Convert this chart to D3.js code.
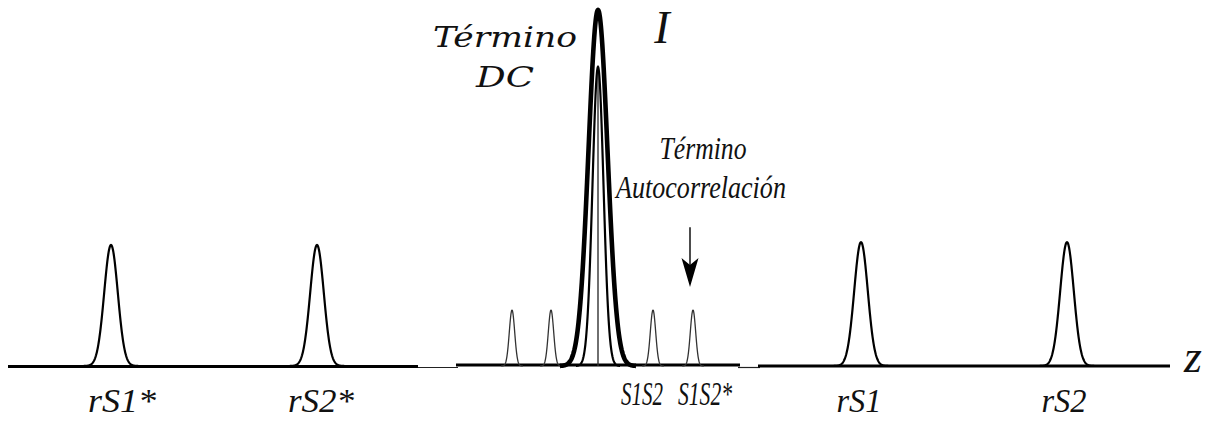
<!DOCTYPE html>
<html>
<head>
<meta charset="utf-8">
<script src="https://cdn.jsdelivr.net/npm/d3@7"></script>
<style>
  html, body { margin: 0; padding: 0; background: #fff; }
  svg { display: block; }
</style>
</head>
<body>
<svg id="chart" width="1206" height="421"></svg>
<script>
// Cross-correlation peaks (reference/sample terms) along z
const crossZ = [-487, -281, 263, 469];
const crossHeight = [0.34, 0.34, 0.348, 0.348];
const crossSigma = [6.8, 6.8, 6.8, 6.8];

// Autocorrelation (sample/sample) peaks near the origin
const autoZ = [-86, -47, 55, 95];
const autoHeight = [0.157, 0.157, 0.157, 0.157];
const autoSigma = [2.7, 2.7, 2.7, 2.7];

// DC term: outer and inner profiles
const dcZ = [0, 0];
const dcHeight = [1.0, 0.84];
const dcSigma = [9.5, 5.5];

// Axis labels under the peaks
const tickLabels = ["rS1*", "rS2*", "S1S2", "S1S2*", "rS1", "rS2"];
const tickZ = [-487, -281, 55, 95, 263, 469];

// Baseline segments (z ranges)
const baseSegments = [[-590, -180], [-142, 142], [160, 572]];
const thinSegments = [[-182, -140], [140, 162]];

const x = d3.scaleLinear().domain([-600, 600]).range([-2, 1198]);
const y = d3.scaleLinear().domain([0, 1]).range([366, 10]);

const svg = d3.select("#chart");
const line = d3.line().x(d => x(d[0])).y(d => y(d[1]));

// sampled Gaussian profile of one peak
function peakPoints(c, h, s) {
  const pts = [];
  const n = 160;
  for (let i = 0; i <= n; i++) {
    const z = c - 4 * s + (8 * s) * i / n;
    pts.push([z, h * Math.exp(-((z - c) * (z - c)) / (2 * s * s))]);
  }
  return pts;
}

// thin connector pieces of the baseline
svg.append("g").selectAll("line").data(thinSegments).join("line")
  .attr("x1", d => x(d[0])).attr("x2", d => x(d[1]))
  .attr("y1", y(0) + 1.5).attr("y2", y(0) + 1.5)
  .attr("stroke", "#222").attr("stroke-width", 1.2);

// thick baseline segments
const segDy = [0.5, -1, 0];
svg.append("g").selectAll("line").data(baseSegments).join("line")
  .attr("x1", d => x(d[0])).attr("x2", d => x(d[1]))
  .attr("y1", (d, i) => y(0) + segDy[i])
  .attr("y2", (d, i) => y(0) + segDy[i])
  .attr("stroke", "#000").attr("stroke-width", 3.2);

// cross-correlation peaks
svg.append("g").selectAll("path").data(crossZ).join("path")
  .attr("d", (c, i) => line(peakPoints(c, crossHeight[i], crossSigma[i])))
  .attr("fill", "none").attr("stroke", "#000").attr("stroke-width", 2.2);

// autocorrelation peaks
svg.append("g").selectAll("path").data(autoZ).join("path")
  .attr("d", (c, i) => line(peakPoints(c, autoHeight[i], autoSigma[i])))
  .attr("fill", "none").attr("stroke", "#333").attr("stroke-width", 1.3);

// DC term: inner profile, outer profile and center line
svg.append("line")
  .attr("x1", x(dcZ[1])).attr("x2", x(dcZ[1]))
  .attr("y1", y(dcHeight[1])).attr("y2", y(0))
  .attr("stroke", "#333").attr("stroke-width", 1.4);
svg.append("path")
  .attr("d", line(peakPoints(dcZ[1], dcHeight[1], dcSigma[1])))
  .attr("fill", "none").attr("stroke", "#000").attr("stroke-width", 2.2);
svg.append("path")
  .attr("d", line(peakPoints(dcZ[0], dcHeight[0], dcSigma[0])))
  .attr("fill", "none").attr("stroke", "#000").attr("stroke-width", 4.6)
  .attr("stroke-linejoin", "round");

// arrow pointing at the autocorrelation term
const arrowZ = 92, arrowFrom = 0.39, arrowTo = 0.222;
const ax = x(arrowZ), ay0 = y(arrowFrom), ay1 = y(arrowTo);
svg.append("line")
  .attr("x1", ax).attr("x2", ax).attr("y1", ay0).attr("y2", ay1 - 20)
  .attr("stroke", "#000").attr("stroke-width", 1.4);
svg.append("path")
  .attr("d", `M${ax},${ay1} L${ax - 8.5},${ay1 - 29} L${ax},${ay1 - 22} L${ax + 8.5},${ay1 - 29} Z`)
  .attr("fill", "#000");

// text drawn at a natural size, then scaled horizontally to a set width
const serif = "'Liberation Serif', 'Times New Roman', serif";
const wide = "'DejaVu Serif', serif";
function fitText(str, cx, by, width, size, family) {
  const t = svg.append("text")
    .attr("x", 0).attr("y", 0).attr("text-anchor", "middle")
    .style("font-family", family).style("font-style", "italic")
    .style("font-size", size + "px").attr("fill", "#111").text(str);
  const len = t.node().getComputedTextLength();
  const s = width / len;
  t.attr("transform", `translate(${cx},${by}) scale(${s},1)`);
  return t;
}

const tickDx = [11, 4, -11, 12, -2, -3];
const tickWidth = [68, 66, 42, 54, 45, 45];
const tickBase = [412, 412, 405, 405, 412, 412];
tickLabels.forEach((lab, i) => {
  fitText(lab, x(tickZ[i]) + tickDx[i], tickBase[i], tickWidth[i], 34, serif);
});

svg.append("text")
  .attr("x", 1193).attr("y", 372).attr("text-anchor", "middle")
  .style("font-family", serif).style("font-style", "italic")
  .style("font-size", "46px").attr("fill", "#111").text("z");

svg.append("text")
  .attr("x", 662).attr("y", 43).attr("text-anchor", "middle")
  .style("font-family", serif).style("font-style", "italic")
  .style("font-size", "46px").attr("fill", "#111").text("I");

fitText("Término", 505, 47, 144, 28, wide);
fitText("DC", 505, 87, 58, 28, wide);

fitText("Término", 703, 159, 87, 31, serif);
fitText("Autocorrelación", 701, 198, 170, 31, serif);
</script>
</body>
</html>
